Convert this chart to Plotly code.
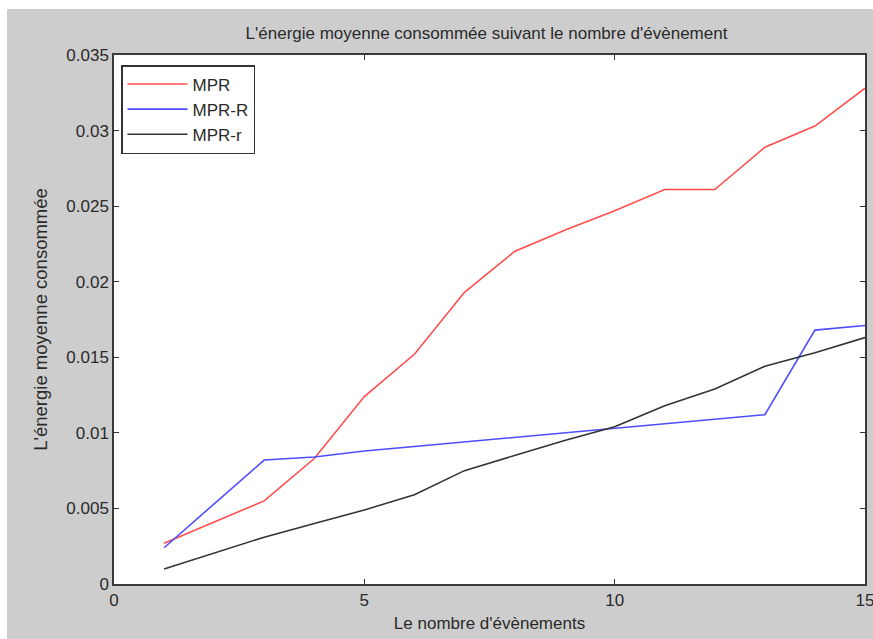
import plotly.graph_objects as go

events = [1, 3, 4, 5, 6, 7, 8, 9, 10, 11, 12, 13, 14, 15]
mpr = [0.0027, 0.0055, 0.0083, 0.0124, 0.0152, 0.0193, 0.0220, 0.0234, 0.0247, 0.0261, 0.0261, 0.0289, 0.0303, 0.0328]
mpr_R = [0.0024, 0.0082, 0.0084, 0.0088, 0.0091, 0.0094, 0.0097, 0.0100, 0.0103, 0.0106, 0.0109, 0.0112, 0.0168, 0.0171]
mpr_r = [0.0010, 0.0031, 0.0040, 0.0049, 0.0059, 0.0075, 0.0085, 0.0095, 0.0104, 0.0118, 0.0129, 0.0144, 0.0153, 0.0163]

series_names = ["MPR", "MPR-R", "MPR-r"]
x_ticks = [0, 5, 10, 15]
y_ticks = [0, 0.005, 0.01, 0.015, 0.02, 0.025, 0.03, 0.035]
y_tick_labels = ["0", "0.005", "0.01", "0.015", "0.02", "0.025", "0.03", "0.035"]

FONT = "Liberation Sans, Arial, sans-serif"
OX, OY = 7, 9  # white page border left / top
W, H = 873 - OX, 639 - OY
L, T = 114 - OX, 55 - OY
R = 873 - 865
B = 639 - 584
pw = W - L - R
ph = H - T - B

fig = go.Figure()
for name, vals, col in zip(series_names, [mpr, mpr_R, mpr_r], ["#ff4d4d", "#4d4dff", "#333333"]):
    fig.add_trace(go.Scatter(x=events, y=vals, mode="lines", name=name,
                             line=dict(color=col, width=1.6)))

axis_common = dict(showline=True, linecolor="#3a3a3a", linewidth=1.5, mirror="ticks",
                   ticks="inside", ticklen=5, tickwidth=1, tickcolor="#333333",
                   showgrid=False, zeroline=False, automargin=False,
                   ticklabeloverflow="allow",
                   tickfont=dict(family=FONT, size=17, color="#2a2a2a"))

fig.update_layout(
    width=W, height=H,
    margin=dict(l=L, r=R, t=T, b=B),
    paper_bgcolor="#cdcdcd", plot_bgcolor="white",
    font=dict(family=FONT, size=17, color="#2a2a2a"),
    title=dict(text="L'énergie moyenne consommée suivant le nombre d'évènement",
               x=(486.5 - OX) / W, xanchor="center", y=1 - (33 - OY) / H, yanchor="middle",
               yref="container", font=dict(family=FONT, size=17, color="#2a2a2a")),
    xaxis=dict(range=[0, 15], tickvals=x_ticks, ticktext=[str(v) for v in x_ticks],
               title=dict(text="Le nombre d'évènements", standoff=8,
                          font=dict(family=FONT, size=17, color="#2a2a2a")),
               **axis_common),
    yaxis=dict(range=[0, 0.035], tickvals=y_ticks, ticktext=y_tick_labels,
               title=dict(text="L'énergie moyenne consommée", standoff=14,
                          font=dict(family=FONT, size=18.5, color="#2a2a2a")),
               **axis_common),
    legend=dict(x=(121 - 114) / pw, y=(584 - 65) / ph, xanchor="left", yanchor="top",
                bgcolor="white", bordercolor="#333333", borderwidth=1.5, itemwidth=60,
                font=dict(family=FONT, size=17, color="#2a2a2a")),
    showlegend=True,
)

post = (
    "document.body.style.margin='%dpx 0 0 %dpx';"
    "document.body.style.overflow='hidden';"
    "document.documentElement.style.overflow='hidden';"
) % (OY, OX)

fig.write_html("out.html", post_script=post, config={"responsive": False})
